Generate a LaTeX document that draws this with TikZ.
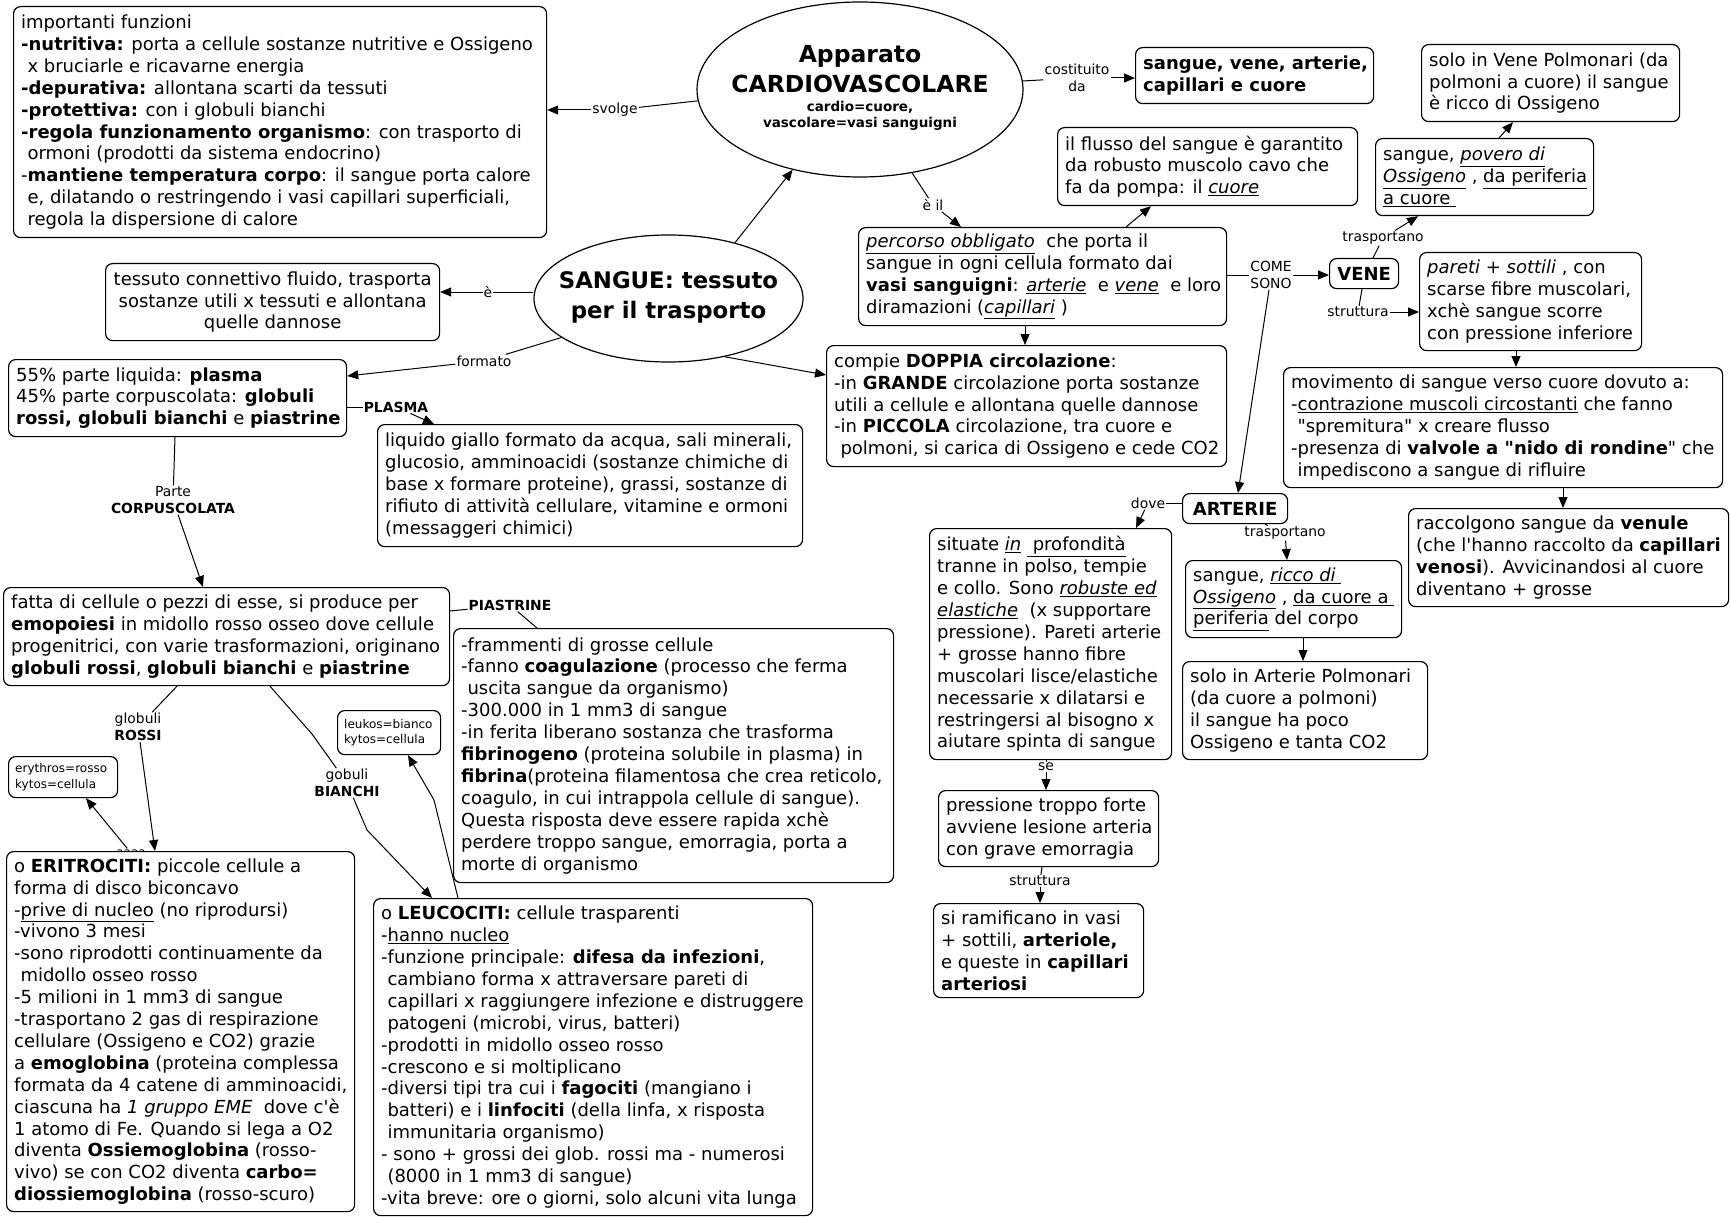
\documentclass[tikz,border=0pt]{standalone}
\usepackage{fontspec}
\setmainfont{DejaVu Sans}
\usetikzlibrary{shapes.geometric,arrows.meta}
\newcommand\mainfs{\fontsize{18.0pt}{21.9pt}\selectfont}
\newcommand\labfs{\fontsize{13.9pt}{16.5pt}\selectfont}
\newcommand\tinyfs{\fontsize{12pt}{15.5pt}\selectfont}
\newcommand\myind{\hspace*{0.35em}}
\newcommand\tbox[6]{\node[box, minimum width=#4pt, minimum height=#5pt] (#1) at (#2,#3) {};
 \node[txt] (#1t) at ([xshift=8pt]#1.west) {#6};}
\tikzset{
 box/.style={draw, rounded corners=7pt, fill=white, line width=1.2pt, inner sep=0pt, anchor=north west},
 txt/.style={anchor=west, align=left, inner sep=0pt, font=\mainfs},
 lab/.style={font=\labfs, inner sep=1pt, align=center},
 ln/.style={line width=1pt},
 arr/.style={ln, -{Triangle[length=11pt,width=9pt]}},
 oval/.style={ellipse, draw, line width=1.2pt, fill=white, inner sep=0pt}
}
\begin{document}
\begin{tikzpicture}[x=1pt,y=-1pt]
\useasboundingbox (0,0) rectangle (1730,1217);
\fill[white] (0,0) rectangle (1730,1217);

% ellipses
\node[oval, minimum width=326pt, minimum height=175pt] (app) at (860,89.5) {};
\node[font=\fontsize{23.5pt}{30pt}\selectfont\bfseries, align=center, inner sep=0pt] (appt) at (860,69) {Apparato\\CARDIOVASCOLARE};
\node[font=\fontsize{13.5pt}{16.5pt}\selectfont\bfseries, align=center, inner sep=0pt] (apps) at (860,116) {cardio=cuore,\\vascolare=vasi sanguigni};
\node[oval, minimum width=269pt, minimum height=127pt] (sangue) at (668.5,298.5) {};
\node[font=\fontsize{22.8pt}{30pt}\selectfont\bfseries, align=center, inner sep=0pt] (sanguet) at (668.5,297) {SANGUE: tessuto\\per il trasporto};

% left side boxes
\tbox{funz}{13}{6}{533}{231}{importanti funzioni\\
\textbf{-nutritiva:} porta a cellule sostanze nutritive e Ossigeno\\
\myind x bruciarle e ricavarne energia\\
\textbf{-depurativa:} allontana scarti da tessuti\\
\textbf{-protettiva:} con i globuli bianchi\\
\textbf{-regola funzionamento organismo}: con trasporto di\\
\myind ormoni (prodotti da sistema endocrino)\\
-\textbf{mantiene temperatura corpo}: il sangue porta calore\\
\myind e, dilatando o restringendo i vasi capillari superficiali,\\
\myind regola la dispersione di calore}

\node[box, minimum width=334pt, minimum height=77pt, align=center, font=\mainfs] (tess) at (105,263) {tessuto connettivo fluido, trasporta\\sostanze utili x tessuti e allontana\\quelle dannose};

\tbox{b55}{8}{359}{338}{77}{55\% parte liquida: \textbf{plasma}\\
45\% parte corpuscolata: \textbf{globuli}\\
\textbf{rossi, globuli bianchi} e \textbf{piastrine}}

\tbox{liq}{377}{424}{425}{122}{liquido giallo formato da acqua, sali minerali,\\
glucosio, amminoacidi (sostanze chimiche di\\
base x formare proteine), grassi, sostanze di\\
rifiuto di attività cellulare, vitamine e ormoni\\
(messaggeri chimici)}

\tbox{fatta}{3}{587}{446}{98}{fatta di cellule o pezzi di esse, si produce per\\
\textbf{emopoiesi} in midollo rosso osseo dove cellule\\
progenitrici, con varie trasformazioni, originano\\
\textbf{globuli rossi}, \textbf{globuli bianchi} e \textbf{piastrine}}

\tbox{fram}{453}{628}{440}{254}{-frammenti di grosse cellule\\
-fanno \textbf{coagulazione} (processo che ferma\\
\myind uscita sangue da organismo)\\
-300.000 in 1 mm3 di sangue\\
-in ferita liberano sostanza che trasforma\\
\textbf{fibrinogeno} (proteina solubile in plasma) in\\
\textbf{fibrina}(proteina filamentosa che crea reticolo,\\
coagulo, in cui intrappola cellule di sangue).\\
Questa risposta deve essere rapida xchè\\
perdere troppo sangue, emorragia, porta a\\
morte di organismo}

\node[box, minimum width=109pt, minimum height=41pt] (eryth) at (8,756) {};
\node[txt, font=\tinyfs] (erytht) at ([xshift=7pt]eryth.west) {erythros=rosso\\kytos=cellula};
\node[box, minimum width=103pt, minimum height=44pt] (leuk) at (337,710) {};
\node[txt, font=\tinyfs] (leukt) at ([xshift=7pt]leuk.west) {leukos=bianco\\kytos=cellula};

\node[lab, font=\tinyfs] (laaaa) at (131,853) {aaaa};

\tbox{erit}{6}{851}{348}{360}{o \textbf{ERITROCITI:} piccole cellule a\\
forma di disco biconcavo\\
-\underline{prive di nucleo} (no riprodursi)\\
-vivono 3 mesi\\
-sono riprodotti continuamente da\\
\myind midollo osseo rosso\\
-5 milioni in 1 mm3 di sangue\\
-trasportano 2 gas di respirazione\\
cellulare (Ossigeno e CO2) grazie\\
a \textbf{emoglobina} (proteina complessa\\
formata da 4 catene di amminoacidi,\\
ciascuna ha \textit{1 gruppo EME}\ \ dove c\textquotesingle è\\
1 atomo di Fe. Quando si lega a O2\\
diventa \textbf{Ossiemoglobina} (rosso-\\
vivo) se con CO2 diventa \textbf{carbo=}\\
\textbf{diossiemoglobina} (rosso-scuro)}

\tbox{leuc}{373}{898}{439}{317}{o \textbf{LEUCOCITI:} cellule trasparenti\\
-\underline{hanno nucleo}\\
-funzione principale: \textbf{difesa da infezioni},\\
\myind cambiano forma x attraversare pareti di\\
\myind capillari x raggiungere infezione e distruggere\\
\myind patogeni (microbi, virus, batteri)\\
-prodotti in midollo osseo rosso\\
-crescono e si moltiplicano\\
-diversi tipi tra cui i \textbf{fagociti} (mangiano i\\
\myind batteri) e i \textbf{linfociti} (della linfa, x risposta\\
\myind immunitaria organismo)\\
- sono + grossi dei glob. rossi ma - numerosi\\
\myind (8000 in 1 mm3 di sangue)\\
-vita breve: ore o giorni, solo alcuni vita lunga}

% right side boxes
\tbox{sv}{1135}{47}{238}{56}{\textbf{sangue, vene, arterie,}\\\textbf{capillari e cuore}}

\tbox{flusso}{1057}{127}{300}{78}{il flusso del sangue è garantito\\
da robusto muscolo cavo che\\
fa da pompa: il \underline{\textit{cuore}}}

\tbox{perc}{858}{227}{368}{98}{\underline{\textit{percorso obbligato}}\ \ che porta il\\
sangue in ogni cellula formato dai\\
\textbf{vasi sanguigni}: \underline{\textit{arterie}}\ \ e \underline{\textit{vene}}\ \ e loro\\
diramazioni (\underline{\textit{capillari}} )}

\tbox{compie}{826}{345}{400}{121}{compie \textbf{DOPPIA circolazione}:\\
-in \textbf{GRANDE} circolazione porta sostanze\\
utili a cellule e allontana quelle dannose\\
-in \textbf{PICCOLA} circolazione, tra cuore e\\
\myind polmoni, si carica di Ossigeno e cede CO2}

\node[box, minimum width=69pt, minimum height=30pt, font=\mainfs\bfseries] (vene) at (1329,258) {VENE};

\tbox{povero}{1375}{138}{218}{77}{sangue, \underline{\textit{povero di}}\\
\underline{\textit{Ossigeno}} , \underline{da periferia}\\
\underline{a cuore\ }}

\tbox{solov}{1421}{44}{258}{77}{solo in Vene Polmonari (da\\
polmoni a cuore) il sangue\\
è ricco di Ossigeno}

\tbox{pareti}{1419}{252}{222}{98}{\textit{pareti + sottili} , con\\
scarse fibre muscolari,\\
xchè sangue scorre\\
con pressione inferiore}

\tbox{mov}{1283}{367}{439}{120}{movimento di sangue verso cuore dovuto a:\\
-\underline{contrazione muscoli circostanti} che fanno\\
\myind \textquotedbl spremitura\textquotedbl\ x creare flusso\\
-presenza di \textbf{valvole a \textquotedbl nido di rondine}\textquotedbl\ che\\
\myind impediscono a sangue di rifluire}

\tbox{racc}{1408}{508}{320}{98}{raccolgono sangue da \textbf{venule}\\
(che l\textquotesingle hanno raccolto da \textbf{capillari}\\
\textbf{venosi}). Avvicinandosi al cuore\\
diventano + grosse}

\node[box, minimum width=105pt, minimum height=30pt, font=\mainfs\bfseries] (art) at (1182,493) {ARTERIE};

\tbox{sit}{929}{528}{242}{231}{situate \underline{\textit{in}}\ \underline{\ profondità}\\
tranne in polso, tempie\\
e collo. Sono \underline{\textit{robuste ed}}\\
\underline{\textit{elastiche}}\ \ (x supportare\\
pressione). Pareti arterie\\
+ grosse hanno fibre\\
muscolari lisce/elastiche\\
necessarie x dilatarsi e\\
restringersi al bisogno x\\
aiutare spinta di sangue}

\tbox{ricco}{1185}{560}{216}{77}{sangue, \underline{\textit{ricco di\ }}\\
\underline{\textit{Ossigeno}} , \underline{da cuore a\ }\\
\underline{periferia} del corpo}

\tbox{soloa}{1182}{661}{245}{98}{solo in Arterie Polmonari\\
(da cuore a polmoni)\\
il sangue ha poco\\
Ossigeno e tanta CO2}

\tbox{press}{938}{790}{220}{76}{pressione troppo forte\\
avviene lesione arteria\\
con grave emorragia}

\tbox{ram}{933}{903}{210}{94}{si ramificano in vasi\\
+ sottili, \textbf{arteriole,}\\
e queste in \textbf{capillari}\\
\textbf{arteriosi}}

% labels
\node[lab] (lsvolge) at (615,110) {svolge};
\node[lab] (lcost) at (1077,78) {costituito\\da};
\node[lab] (leil) at (933,205) {è il};
\node[lab] (le) at (488,292) {è};
\node[lab] (lform) at (484,361) {formato};
\node[lab, font=\labfs\bfseries] (lplasma) at (396,407) {PLASMA};
\node[lab] (lcorp) at (173,500) {Parte\\\textbf{CORPUSCOLATA}};
\node[lab, font=\labfs\bfseries] (lpiast) at (510,605) {PIASTRINE};
\node[lab] (lrossi) at (138,727) {globuli\\\textbf{ROSSI}};
\node[lab] (lbianchi) at (347,783) {gobuli\\\textbf{BIANCHI}};
\node[lab] (lcome) at (1271,275) {COME\\SONO};
\node[lab] (ltrasv) at (1383,238) {trasportano};
\node[lab] (lstrv) at (1358,312) {struttura};
\node[lab] (ldove) at (1148,503) {dove};
\node[lab] (ltrasa) at (1285,533) {trasportano};
\node[lab] (lse) at (1046,767) {se};
\node[lab] (lstra) at (1040,881) {struttura};

\coordinate (bb1) at (312,734);
\coordinate (bb2) at (367,830);
\coordinate (lk1) at (434,800);

% connectors
\draw[arr] (sangue.40) -- (app.230.3);
\draw[ln] (app.184) -- (lsvolge);
\draw[arr] (lsvolge) -- (funz.east |- lsvolge);
\draw[ln] (app.3) -- (lcost);
\draw[arr] (lcost) -- (sv.west |- lcost);
\draw[ln] (app.302.2) -- (leil);
\draw[arr] (leil) -- ([xshift=103pt]perc.north west);
\draw[arr] ([xshift=268pt]perc.north west) -- ([xshift=94pt]flusso.south west);
\draw[arr] ([xshift=167pt]perc.south west) -- ([xshift=199pt]compie.north west);
\draw[ln] (perc.east |- lcome) -- (lcome);
\draw[arr] (lcome) -- (vene.west |- lcome);
\draw[arr] ([xshift=-2pt]lcome.south) -- ([xshift=56pt]art.north west);
\draw[ln] ([xshift=44pt]vene.north west) -- (ltrasv);
\draw[arr] (ltrasv) -- ([xshift=43pt]povero.south west);
\draw[arr] ([xshift=124pt]povero.north west) -- ([xshift=92pt]solov.south west);
\draw[ln] ([xshift=33pt]vene.south west) -- (lstrv);
\draw[arr] (lstrv) -- (pareti.west |- lstrv);
\draw[arr] ([xshift=97pt]pareti.south west) -- ([xshift=233pt]mov.north west);
\draw[arr] ([xshift=280pt]mov.south west) -- ([xshift=155pt]racc.north west);
\draw[ln] (art.west |- ldove) -- (ldove);
\draw[arr] (ldove) -- ([xshift=207pt]sit.north west);
\draw[ln] ([xshift=83pt]art.south west) -- (ltrasa);
\draw[arr] (ltrasa) -- ([xshift=102pt]ricco.north west);
\draw[arr] ([xshift=118pt]ricco.south west) -- ([xshift=121pt]soloa.north west);
\draw[ln] ([xshift=117pt]sit.south west) -- (lse);
\draw[arr] (lse) -- ([xshift=108pt]press.north west);
\draw[ln] ([xshift=104pt]press.south west) -- (lstra);
\draw[arr] (lstra) -- ([xshift=107pt]ram.north west);
\draw[ln] (sangue.west |- le) -- (le);
\draw[arr] (le) -- (tess.east |- le);
\draw[ln] (sangue.200) -- (lform);
\draw[arr] (lform) -- ([yshift=-17pt]b55.north east);
\draw[arr] (sangue.314.5) -- ([yshift=-30pt]compie.north west);
\draw[ln] (b55.east |- lplasma) -- (lplasma);
\draw[arr] (lplasma) -- ([xshift=57pt]liq.north west);
\draw[ln] ([xshift=167pt]b55.south west) -- (lcorp);
\draw[arr] (lcorp) -- ([xshift=200pt]fatta.north west);
\draw[ln] ([yshift=-24pt]fatta.north east) -- (lpiast);
\draw[ln] (lpiast) -- ([xshift=84pt]fram.north west);
\draw[ln] ([xshift=174pt]fatta.south west) -- (lrossi);
\draw[arr] (lrossi) -- ([xshift=149pt]erit.north west);
\draw[arr] (laaaa) -- ([xshift=78pt]eryth.south west);
\draw[ln] ([xshift=267pt]fatta.south west) -- (bb1) -- (lbianchi);
\draw[arr] (lbianchi) -- (bb2) -- ([xshift=59pt]leuc.north west);
\draw[arr] ([xshift=85pt]leuc.north west) -- (lk1) -- ([xshift=71pt]leuk.south west);
\end{tikzpicture}
\end{document}
